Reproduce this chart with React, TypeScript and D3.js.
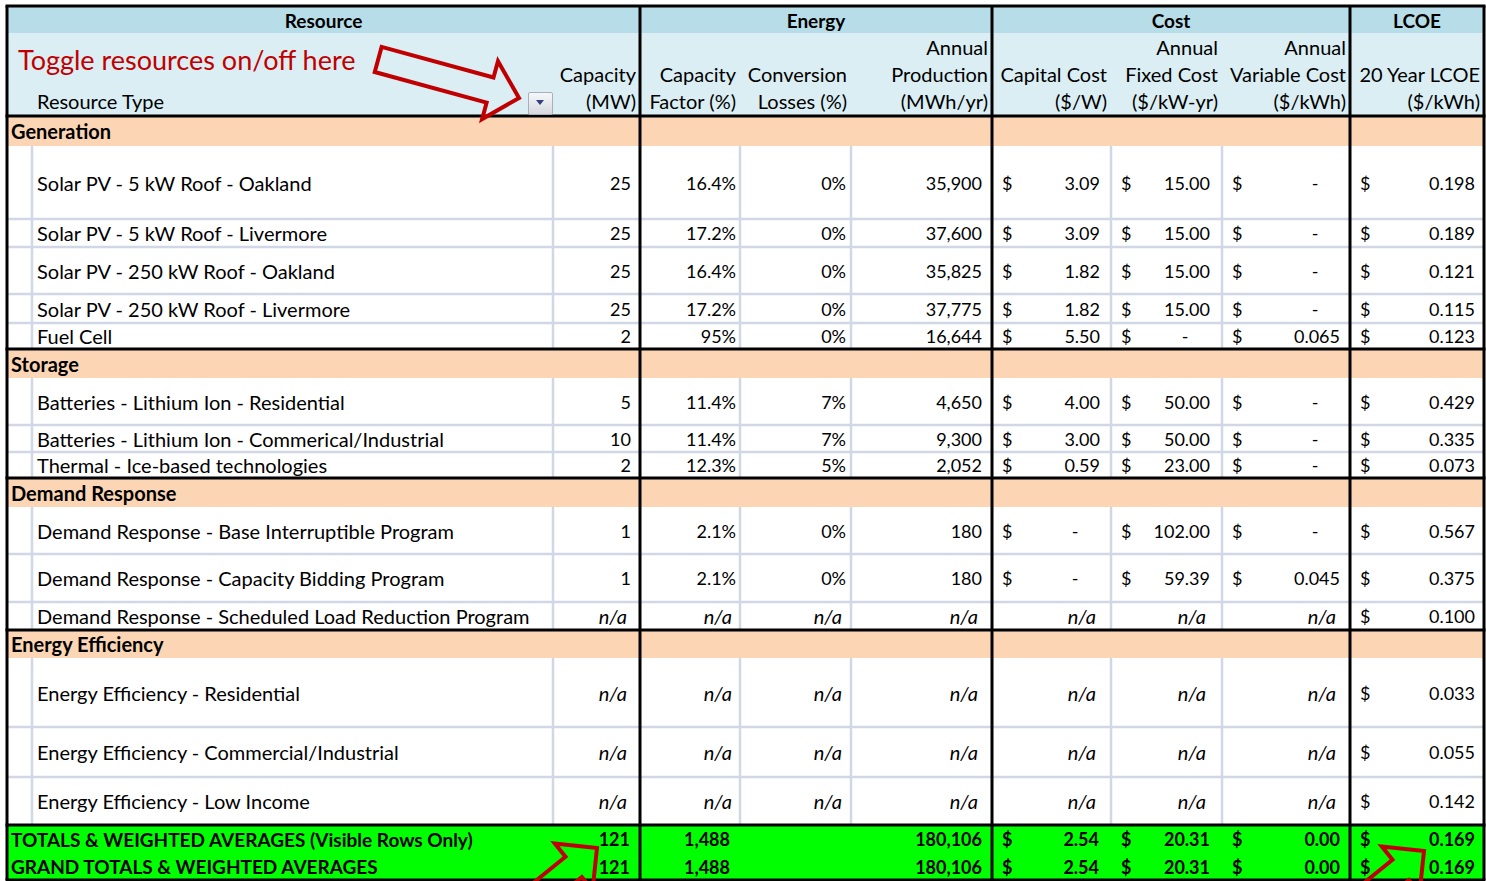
import React from "react";
import * as d3 from "d3";

// ---------- DATA ----------
const groupHeaders = ["Resource", "Energy", "Cost", "LCOE"];
const toggleNote = "Toggle resources on/off here";
const sectionNames = ["Generation", "Storage", "Demand Response", "Energy Efficiency"];
const sectionCounts = [5, 3, 3, 3];
const resourceNames = [
  "Solar PV - 5 kW Roof - Oakland",
  "Solar PV - 5 kW Roof - Livermore",
  "Solar PV - 250 kW Roof - Oakland",
  "Solar PV - 250 kW Roof - Livermore",
  "Fuel Cell",
  "Batteries - Lithium Ion - Residential",
  "Batteries - Lithium Ion - Commerical/Industrial",
  "Thermal - Ice-based technologies",
  "Demand Response - Base Interruptible Program",
  "Demand Response - Capacity Bidding Program",
  "Demand Response - Scheduled Load Reduction Program",
  "Energy Efficiency - Residential",
  "Energy Efficiency - Commercial/Industrial",
  "Energy Efficiency - Low Income",
];
const capacityMW = [25, 25, 25, 25, 2, 5, 10, 2, 1, 1, null, null, null, null];
const capacityFactorPct = [16.4, 17.2, 16.4, 17.2, 95, 11.4, 11.4, 12.3, 2.1, 2.1, null, null, null, null];
const conversionLossPct = [0, 0, 0, 0, 0, 7, 7, 5, 0, 0, null, null, null, null];
const annualProductionMWh = [35900, 37600, 35825, 37775, 16644, 4650, 9300, 2052, 180, 180, null, null, null, null];
const capitalCostPerW = [3.09, 3.09, 1.82, 1.82, 5.5, 4.0, 3.0, 0.59, 0, 0, null, null, null, null];
const fixedCostPerKwYr = [15, 15, 15, 15, 0, 50, 50, 23, 102, 59.39, null, null, null, null];
const variableCostPerKwh = [0, 0, 0, 0, 0.065, 0, 0, 0, 0, 0.045, null, null, null, null];
const lcoe20yr = [0.198, 0.189, 0.121, 0.115, 0.123, 0.429, 0.335, 0.073, 0.567, 0.375, 0.1, 0.033, 0.055, 0.142];

const totalLabels = ["TOTALS & WEIGHTED AVERAGES (Visible Rows Only)", "GRAND TOTALS & WEIGHTED AVERAGES"];
const totalCapacity = [121, 121];
const totalEnergyCol = [1488, 1488];
const totalProduction = [180106, 180106];
const totalCapital = [2.54, 2.54];
const totalFixed = [20.31, 20.31];
const totalVariable = [0.0, 0.0];
const totalLcoe = [0.169, 0.169];

const subHeaderLines = [
  ["", "", ""],
  ["", "", "Resource Type"],
  ["", "Capacity", "(MW)"],
  ["", "Capacity", "Factor (%)"],
  ["", "Conversion", "Losses (%)"],
  ["Annual", "Production", "(MWh/yr)"],
  ["", "Capital Cost", "($/W)"],
  ["Annual", "Fixed Cost", "($/kW-yr)"],
  ["Annual", "Variable Cost", "($/kWh)"],
  ["", "20 Year LCOE", "($/kWh)"],
];

// ---------- LAYOUT ----------
const W = 1486, H = 881;
const left = 7, top = 6;
const colWidths = [25, 521, 87, 100, 111, 141, 119, 111, 128, 134];
const groupSpans = [[0, 3], [3, 6], [6, 9], [9, 10]];
const headerHeights = [27, 83];
const sectionHeaderHeights = [30, 29, 29, 28];
const dataRowHeights = [73, 28, 47, 29, 26, 47, 27, 26, 47, 48, 28, 69, 50, 48];
const totalRowHeights = [28, 27];
const numPad = [0, 0, 9, 4, 5, 10, 11, 12, 10, 9];
const totPad = [0, 0, 10, 10, 5, 10, 12, 12, 10, 9];

const FONT = "Lato, 'Open Sans', sans-serif";
const RED = "#c00000";
const LIGHT = "#d0d7e5";
const LABEL_SIZE = 20;
const NUM_SIZE = 18;

const colX = [left, ...Array.from(d3.cumsum(colWidths), (v) => left + v)];

type Row = { kind: "section" | "data" | "total"; idx: number; y0: number; y1: number };
const rows: Row[] = [];
{
  let y = top + d3.sum(headerHeights);
  let di = 0;
  sectionNames.forEach((_, s) => {
    rows.push({ kind: "section", idx: s, y0: y, y1: y + sectionHeaderHeights[s] });
    y += sectionHeaderHeights[s];
    for (let k = 0; k < sectionCounts[s]; k++) {
      rows.push({ kind: "data", idx: di, y0: y, y1: y + dataRowHeights[di] });
      y += dataRowHeights[di];
      di++;
    }
  });
  totalLabels.forEach((_, t) => {
    rows.push({ kind: "total", idx: t, y0: y, y1: y + totalRowHeights[t] });
    y += totalRowHeights[t];
  });
}
const yHeadMid = top + headerHeights[0];
const yHeadBot = yHeadMid + headerHeights[1];
const yBottom = rows[rows.length - 1].y1;
const xRight = colX[colX.length - 1];

const fmtComma = d3.format(",");
const fmtPct = (v: number) => (Number.isInteger(v) ? d3.format("d")(v) : d3.format(".1f")(v)) + "%";

function Arrow({ tx, ty, angle, length }: { tx: number; ty: number; angle: number; length: number }) {
  const hl = 30, hw = 30, sw = 13;
  const pts = [
    [0, 0], [-hl, -hw], [-hl, -sw], [-length, -sw], [-length, sw], [-hl, sw], [-hl, hw],
  ];
  return (
    <polygon
      points={pts.map((p) => p.join(",")).join(" ")}
      transform={`translate(${tx},${ty}) rotate(${angle})`}
      fill="none"
      stroke={RED}
      strokeWidth={4}
      strokeLinejoin="miter"
    />
  );
}

export default function App() {
  const cells: React.ReactNode[] = [];
  const textBase = { fontFamily: FONT, fontSize: NUM_SIZE, fill: "#000", dominantBaseline: "central" as const };

  const numText = (key: string, col: number, y: number, s: string, pad: number, bold = false, italic = false) => (
    <text key={key} x={colX[col + 1] - pad} y={y} textAnchor="end" {...textBase}
      fontSize={italic ? LABEL_SIZE : NUM_SIZE}
      fontWeight={bold ? 700 : 400} fontStyle={italic ? "italic" : "normal"}>{s}</text>
  );
  const dollar = (key: string, col: number, y: number, bold = false) => (
    <text key={key} x={colX[col] + 10} y={y} {...textBase} fontWeight={bold ? 700 : 400}>$</text>
  );
  const money = (key: string, col: number, y: number, v: number | null, dec: number, pad: number, bold = false) => {
    if (v === null) return [numText(key + "na", col, y, "n/a", pad + 4, false, true)];
    const out = [dollar(key + "$", col, y, bold)];
    if (v === 0 && !bold) out.push(<text key={key + "d"} x={colX[col + 1] - pad - 25} y={y} textAnchor="middle" {...textBase}>-</text>);
    else out.push(numText(key + "v", col, y, d3.format(`.${dec}f`)(v), pad, bold));
    return out;
  };

  rows.forEach((r, ri) => {
    const y = (r.y0 + r.y1) / 2;
    if (r.kind === "section") {
      cells.push(<text key={`s${ri}`} x={left + 4} y={y} {...textBase} fontSize={LABEL_SIZE} fontWeight={700}>{sectionNames[r.idx]}</text>);
    } else if (r.kind === "data") {
      const i = r.idx;
      cells.push(<text key={`n${ri}`} x={colX[1] + 5} y={y} {...textBase} fontSize={LABEL_SIZE}>{resourceNames[i]}</text>);
      const na = (c: number) => numText(`na${ri}_${c}`, c, y, "n/a", numPad[c] + 4, false, true);
      cells.push(capacityMW[i] === null ? na(2) : numText(`c${ri}`, 2, y, String(capacityMW[i]), numPad[2]));
      cells.push(capacityFactorPct[i] === null ? na(3) : numText(`cf${ri}`, 3, y, fmtPct(capacityFactorPct[i] as number), numPad[3]));
      cells.push(conversionLossPct[i] === null ? na(4) : numText(`cl${ri}`, 4, y, fmtPct(conversionLossPct[i] as number), numPad[4]));
      cells.push(annualProductionMWh[i] === null ? na(5) : numText(`ap${ri}`, 5, y, fmtComma(annualProductionMWh[i] as number), numPad[5]));
      cells.push(...money(`cc${ri}`, 6, y, capitalCostPerW[i], 2, numPad[6]));
      cells.push(...money(`fc${ri}`, 7, y, fixedCostPerKwYr[i], 2, numPad[7]));
      cells.push(...money(`vc${ri}`, 8, y, variableCostPerKwh[i], 3, numPad[8]));
      cells.push(...money(`lc${ri}`, 9, y, lcoe20yr[i], 3, numPad[9]));
    } else {
      const t = r.idx;
      cells.push(<text key={`t${ri}`} x={left + 4} y={y} {...textBase} fontSize={19} fontWeight={700}>{totalLabels[t]}</text>);
      cells.push(numText(`tc${ri}`, 2, y, String(totalCapacity[t]), totPad[2], true));
      cells.push(numText(`te${ri}`, 3, y, fmtComma(totalEnergyCol[t]), totPad[3], true));
      cells.push(numText(`tp${ri}`, 5, y, fmtComma(totalProduction[t]), totPad[5], true));
      cells.push(...money(`tk${ri}`, 6, y, totalCapital[t], 2, totPad[6], true));
      cells.push(...money(`tf${ri}`, 7, y, totalFixed[t], 2, totPad[7], true));
      cells.push(...money(`tv${ri}`, 8, y, totalVariable[t], 2, totPad[8], true));
      cells.push(...money(`tl${ri}`, 9, y, totalLcoe[t], 3, totPad[9], true));
    }
  });

  // light grid lines
  const lightLines: React.ReactNode[] = [];
  rows.forEach((r, ri) => {
    if (r.kind !== "data") return;
    const next = rows[ri + 1];
    if (next && next.kind === "data") {
      lightLines.push(<line key={`lh${ri}`} x1={left} x2={xRight} y1={r.y1} y2={r.y1} stroke={LIGHT} strokeWidth={2.5} />);
    }
    [1, 2, 4, 5, 7, 8].forEach((c) => {
      lightLines.push(<line key={`lv${ri}_${c}`} x1={colX[c]} x2={colX[c]} y1={r.y0} y2={r.y1} stroke={LIGHT} strokeWidth={2.5} />);
    });
  });

  // black lines
  const blackH = [top, yHeadBot, ...rows.filter((r, i) => r.kind === "data" && rows[i + 1] && rows[i + 1].kind !== "data").map((r) => r.y1), yBottom];
  const blackV = [0, 3, 6, 9, 10].map((c) => colX[c]);

  return (
    <svg width={W} height={H} style={{ position: "absolute", left: 0, top: 0, background: "#fff" }}>
      <defs>
        <linearGradient id="btn" x1="0" y1="0" x2="0" y2="1">
          <stop offset="0" stopColor="#f7f8fa" />
          <stop offset="1" stopColor="#d5d8de" />
        </linearGradient>
      </defs>
      {/* header fills */}
      <rect x={left} y={top} width={xRight - left} height={headerHeights[0]} fill="#b7dee8" />
      <rect x={left} y={yHeadMid} width={xRight - left} height={headerHeights[1]} fill="#daeef3" />
      {rows.map((r, i) => (
        <rect key={`f${i}`} x={left} y={r.y0} width={xRight - left} height={r.y1 - r.y0}
          fill={r.kind === "section" ? "#fcd5b4" : r.kind === "total" ? "#00ff00" : "#ffffff"} />
      ))}
      {lightLines}
      {blackH.map((y, i) => <line key={`bh${i}`} x1={left - 1.5} x2={xRight + 1.5} y1={y} y2={y} stroke="#000" strokeWidth={3} />)}
      {blackV.map((x, i) => <line key={`bv${i}`} x1={x} x2={x} y1={top} y2={yBottom} stroke="#000" strokeWidth={3} />)}

      {/* group headers */}
      {groupHeaders.map((g, i) => {
        const [a, b] = groupSpans[i];
        return (
          <text key={`g${i}`} x={(colX[a] + colX[b]) / 2} y={top + headerHeights[0] / 2 + 1} textAnchor="middle"
            fontFamily={FONT} fontSize={19} fontWeight={700} dominantBaseline="central">{g}</text>
        );
      })}
      {/* sub headers */}
      {subHeaderLines.map((lines, c) =>
        lines.map((s, k) =>
          s ? (
            <text key={`sh${c}_${k}`} x={c === 1 ? colX[1] + 5 : colX[c + 1] - 4} y={yHeadMid + 14 + k * 27}
              textAnchor={c === 1 ? "start" : "end"} {...textBase} fontSize={LABEL_SIZE}>{s}</text>
          ) : null
        )
      )}
      <text x={18} y={59} fontFamily={FONT} fontSize={27} fill={RED} dominantBaseline="central">{toggleNote}</text>
      {/* dropdown button */}
      <g>
        <rect x={528.5} y={92.5} width={24} height={22} fill="url(#btn)" stroke="#a9b0bc" rx={1.5} />
        <polygon points="536,100 544,100 540,105" fill="#2f3f7f" />
      </g>
      {cells}
      <Arrow tx={519} ty={98} angle={15.3} length={146} />
      <Arrow tx={597} ty={848} angle={-39} length={120} />
      <Arrow tx={1424} ty={851} angle={-39} length={120} />
    </svg>
  );
}
